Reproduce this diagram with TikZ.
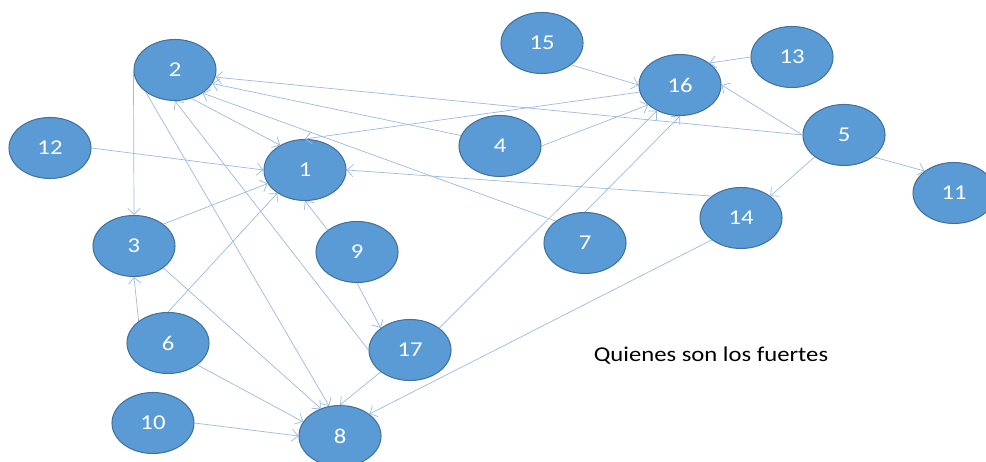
\documentclass[tikz,border=0pt]{standalone}
\usepackage{fontspec}
\setmainfont{Carlito}[FakeStretch=1.17]
\usetikzlibrary{shapes.geometric,arrows.meta}
\definecolor{nodefill}{HTML}{5B9BD5}
\definecolor{nodeline}{HTML}{41719C}
\definecolor{edgeline}{HTML}{9BBAE0}

\begin{document}
\begin{tikzpicture}
\tikzset{vertex/.style = {shape=ellipse,draw=nodeline,fill=nodefill,line width=0.6pt,
    minimum width=1.64cm,minimum height=1.22cm,inner sep=0pt,
    text=white,font=\fontsize{12}{14}\selectfont}}
\useasboundingbox (0,0) rectangle (19.72,9.24);
% vertices
\foreach \x/\y/\name in {6.10/5.84/1,3.50/7.84/2,2.68/4.32/3,10.00/6.32/4,16.88/6.54/5,
    3.36/2.38/6,11.70/4.38/7,6.80/0.52/8,7.14/4.20/9,3.06/0.78/10,19.08/5.38/11,
    1.00/6.28/12,15.84/8.10/13,14.82/4.88/14,10.84/8.38/15,13.60/7.54/16,8.20/2.24/17} {
    \node[vertex] (\name) at (\x,\y) {\name};
}
\node[font=\fontsize{12}{14}\selectfont] (title) at (14.22,2.12) {Quienes son los fuertes};
% edges
\foreach \i/\j in {2.west/3.north,2.south west/8.110,2.-60/1.135,12.east/1.west,
    16.190/1.north,3.north east/1.200,6.north/1.220,9.north west/1.south,
    14.north west/1.east,4.165/2.-20,5.west/2.-10,7.north west/2.-40,17.west/2.south,
    4.east/16.212,15.south east/16.west,13.west/16.north east,5.west/16.east,
    17.north east/16.228,7.north/16.south,5.south west/14.north east,
    5.south east/11.north west,6.north west/3.south,3.south east/8.125,
    6.south east/8.159,10.east/8.west,17.south west/8.north,
    14.south west/8.north east,9.south/17.north west} {
    \draw[-{Straight Barb[length=3.5pt,width=7pt]},edgeline,line width=0.4pt] (\i) -- (\j);
}
\end{tikzpicture}
\end{document}
